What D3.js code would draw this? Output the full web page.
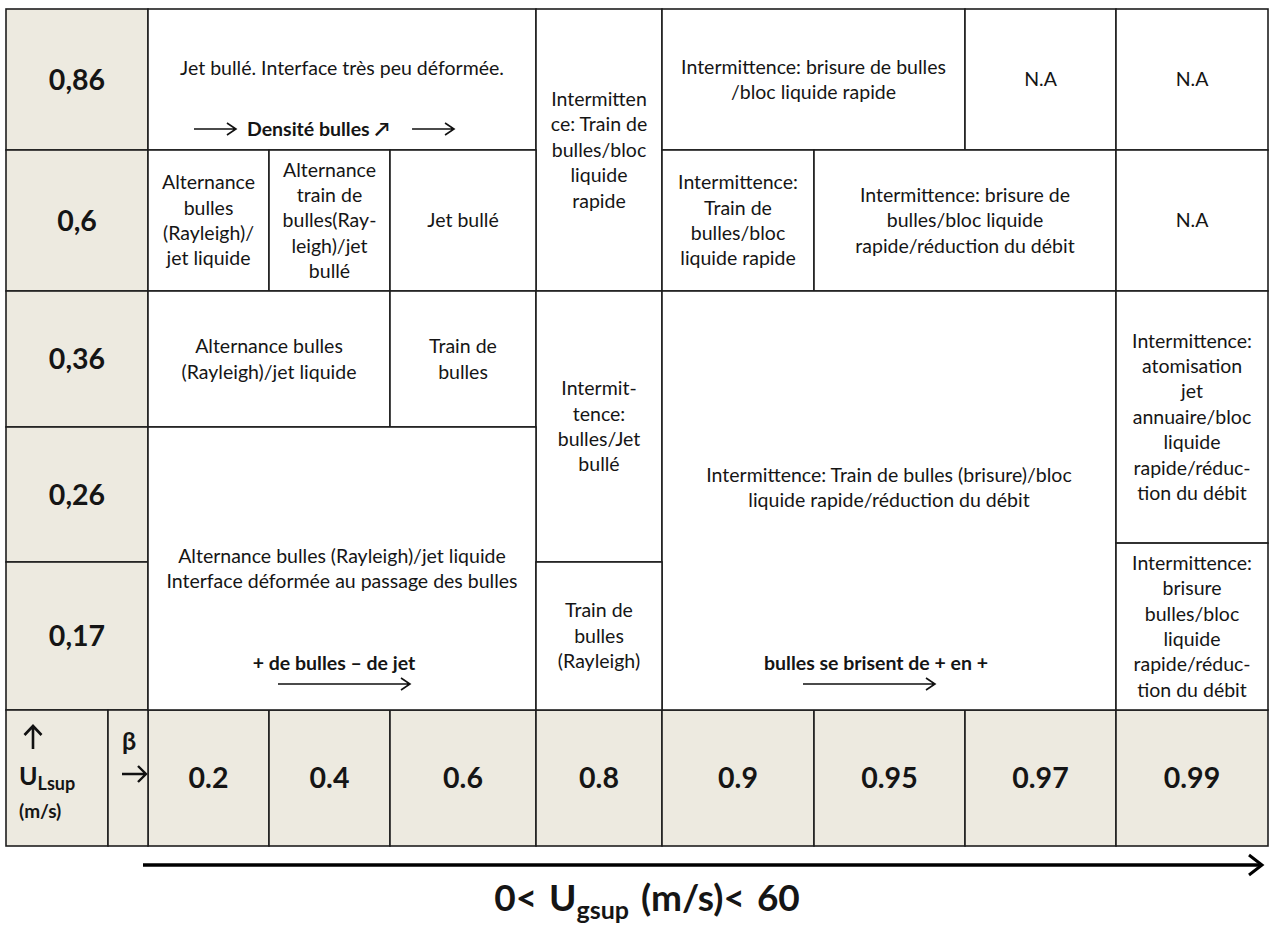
<!DOCTYPE html>
<html><head><meta charset="utf-8">
<script src="https://cdn.jsdelivr.net/npm/d3@7"></script>
<style>
body{margin:0;background:#fff}
svg text{font-family:Lato,"Open Sans",sans-serif;fill:#151515}
</style>
</head><body>
<svg id="chart" width="1269" height="927"></svg>
<script>
// ---- data ----
const rowLabels = ["0,86","0,6","0,36","0,26","0,17"];          // U_Lsup (m/s)
const betaLabels = ["0.2","0.4","0.6","0.8","0.9","0.95","0.97","0.99"];
// regime cells: column span c, row span r (indices into betaLabels / rowLabels)
const regimeCells = [
 {c:[0,3], r:[0,1], lines:["Jet bullé. Interface très peu déformée."]},
 {c:[3,4], r:[0,2], lines:["Intermitten","ce: Train de","bulles/bloc","liquide","rapide"]},
 {c:[4,6], r:[0,1], lines:["Intermittence: brisure de bulles","/bloc liquide rapide"]},
 {c:[6,7], r:[0,1], lines:["N.A"]},
 {c:[7,8], r:[0,1], lines:["N.A"]},
 {c:[0,1], r:[1,2], lines:["Alternance","bulles","(Rayleigh)/","jet liquide"]},
 {c:[1,2], r:[1,2], lines:["Alternance","train de","bulles(Ray-","leigh)/jet","bullé"]},
 {c:[2,3], r:[1,2], lines:["Jet bullé"]},
 {c:[4,5], r:[1,2], lines:["Intermittence:","Train de","bulles/bloc","liquide rapide"]},
 {c:[5,7], r:[1,2], lines:["Intermittence: brisure de","bulles/bloc liquide","rapide/réduction du débit"]},
 {c:[7,8], r:[1,2], lines:["N.A"]},
 {c:[0,2], r:[2,3], lines:["Alternance bulles","(Rayleigh)/jet liquide"]},
 {c:[2,3], r:[2,3], lines:["Train de","bulles"]},
 {c:[3,4], r:[2,4], lines:["Intermit-","tence:","bulles/Jet","bullé"]},
 {c:[4,7], r:[2,5], lines:["Intermittence: Train de bulles (brisure)/bloc","liquide rapide/réduction du débit"]},
 {c:[7,8], r:[2,3.86], lines:["Intermittence:","atomisation","jet","annuaire/bloc","liquide","rapide/réduc-","tion du débit"]},
 {c:[7,8], r:[3.86,5], lines:["Intermittence:","brisure","bulles/bloc","liquide","rapide/réduc-","tion du débit"]},
 {c:[0,3], r:[3,5], lines:["Alternance bulles (Rayleigh)/jet liquide","Interface déformée au passage des bulles"]},
 {c:[3,4], r:[4,5], lines:["Train de","bulles","(Rayleigh)"]}
];
// trend notes (bold) attached to a regime cell
const trendNotes = [
 {cell:0,  text:"Densité bulles ↗", kind:"inline"},
 {cell:17, text:"+ de bulles – de jet", kind:"below"},
 {cell:14, text:"bulles se brisent de + en +", kind:"below"}
];
const headerU = {main:"U", sub:"Lsup", unit:"(m/s)"};
const headerBeta = "β";
const axisTitle = {pre:"0< U", sub:"gsup", post:" (m/s)< 60"};

// ---- layout ----
const svg = d3.select("#chart");
const beige = "#edeae0", stroke = "#1e1e1e";
const x = d3.scaleLinear().domain(d3.range(betaLabels.length+1))
  .range([148,269,390,536,662,814,965,1116,1268]);
const y = d3.scaleLinear().domain(d3.range(rowLabels.length+1))
  .range([9,150,291,427,562,710]);
const left = 6, splitX = 108, bottomY = 846;
const fs = 19.5, lh = 25.4, labFs = 28.5, noteFs = 19.5;
const textShift = {0:-11.5, 14:-13};   // vertical nudges of main text

const g = svg.append("g");

// row label cells
g.selectAll("rect.rl").data(rowLabels).join("rect")
  .attr("x",left).attr("y",(d,i)=>y(i)).attr("width",x(0)-left).attr("height",(d,i)=>y(i+1)-y(i))
  .attr("fill",beige).attr("stroke",stroke).attr("stroke-width",1.6);
g.selectAll("text.rl").data(rowLabels).join("text")
  .attr("x",(left+x(0))/2).attr("y",(d,i)=>(y(i)+y(i+1))/2+10)
  .attr("text-anchor","middle").attr("font-weight","bold").attr("font-size",labFs).text(d=>d);

// bottom beta row
g.selectAll("rect.bl").data(betaLabels).join("rect")
  .attr("x",(d,i)=>x(i)).attr("y",y(rowLabels.length)).attr("width",(d,i)=>x(i+1)-x(i))
  .attr("height",bottomY-y(rowLabels.length))
  .attr("fill",beige).attr("stroke",stroke).attr("stroke-width",1.6);
g.selectAll("text.bl").data(betaLabels).join("text")
  .attr("x",(d,i)=>(x(i)+x(i+1))/2).attr("y",(y(rowLabels.length)+bottomY)/2+10)
  .attr("text-anchor","middle").attr("font-weight","bold").attr("font-size",labFs).text(d=>d);

// header cells
const y5 = y(rowLabels.length);
g.append("rect").attr("x",left).attr("y",y5).attr("width",splitX-left).attr("height",bottomY-y5)
  .attr("fill",beige).attr("stroke",stroke).attr("stroke-width",1.6);
g.append("rect").attr("x",splitX).attr("y",y5).attr("width",x(0)-splitX).attr("height",bottomY-y5)
  .attr("fill",beige).attr("stroke",stroke).attr("stroke-width",1.6);
// up arrow
g.append("path").attr("d",`M33,${y5+39}V${y5+16}M24.5,${y5+25}L33,${y5+16}L41.5,${y5+25}`)
  .attr("fill","none").attr("stroke","#111").attr("stroke-width",2.6);
const ut = g.append("text").attr("x",19).attr("y",y5+75).attr("font-weight","bold").attr("font-size",25);
ut.append("tspan").text(headerU.main);
ut.append("tspan").attr("font-size",18).attr("dy",5).text(headerU.sub);
g.append("text").attr("x",19).attr("y",y5+108).attr("font-weight","bold").attr("font-size",19).text(headerU.unit);
g.append("text").attr("x",129).attr("y",y5+40).attr("text-anchor","middle").attr("font-weight","bold")
  .attr("font-size",25).text(headerBeta);
g.append("path").attr("d",`M122,${y5+64}H146M138,${y5+56}L146,${y5+64}L138,${y5+72}`)
  .attr("fill","none").attr("stroke","#111").attr("stroke-width",2.4);

// regime cells
const cellG = g.selectAll("g.cell").data(regimeCells).join("g");
cellG.append("rect")
  .attr("x",d=>x(d.c[0])).attr("y",d=>y(d.r[0]))
  .attr("width",d=>x(d.c[1])-x(d.c[0])).attr("height",d=>y(d.r[1])-y(d.r[0]))
  .attr("fill","#fff").attr("stroke",stroke).attr("stroke-width",1.6);
cellG.each(function(d,i){
  const cx = (x(d.c[0])+x(d.c[1]))/2;
  const cy = (y(d.r[0])+y(d.r[1]))/2 + (textShift[i]||0);
  const n = d.lines.length;
  d3.select(this).selectAll("text").data(d.lines).join("text")
    .attr("x",cx).attr("y",(l,j)=>cy+(j-(n-1)/2)*lh+fs*0.35)
    .attr("text-anchor","middle").attr("font-size",fs).text(l=>l);
});

// trend notes
const arrowPath = (x0,x1,yy)=>`M${x0},${yy}H${x1}M${x1-9},${yy-6}L${x1},${yy}L${x1-9},${yy+6}`;
trendNotes.forEach(n=>{
  const d = regimeCells[n.cell];
  const x0 = x(d.c[0]), x1 = x(d.c[1]), yb = y(d.r[1]);
  const cx = (x0+x1)/2;
  if(n.kind==="inline"){
    const ty = yb-21;
    const t = g.append("text").attr("x",cx-24).attr("y",ty+7).attr("text-anchor","middle")
      .attr("font-weight","bold").attr("font-size",noteFs).text(n.text);
    const w = t.node().getComputedTextLength();
    const a = cx-24-w/2-11, b = cx-24+w/2+23;
    g.append("path").attr("d",arrowPath(a-42,a,ty)).attr("fill","none").attr("stroke","#111").attr("stroke-width",1.6);
    g.append("path").attr("d",arrowPath(b,b+42,ty)).attr("fill","none").attr("stroke","#111").attr("stroke-width",1.6);
  } else {
    const off = n.cell===14 ? -13 : -8;
    g.append("text").attr("x",cx+off).attr("y",yb-47+7).attr("text-anchor","middle")
      .attr("font-weight","bold").attr("font-size",noteFs).text(n.text);
    const ac = n.cell===14 ? cx-20 : cx+2;
    g.append("path").attr("d",arrowPath(ac-66,ac+66,yb-26)).attr("fill","none").attr("stroke","#111").attr("stroke-width",1.6);
  }
});

// bottom axis arrow
const ay = 865;
g.append("path").attr("d",`M143,${ay}H1262`).attr("stroke","#000").attr("stroke-width",3.5).attr("fill","none");
g.append("path").attr("d",`M1249,${ay-10}L1262,${ay}L1249,${ay+10}`).attr("stroke","#000").attr("stroke-width",3).attr("fill","none");
const at = g.append("text").attr("x",647).attr("y",911).attr("text-anchor","middle")
  .attr("font-weight","bold").attr("font-size",37).attr("word-spacing",3);
at.append("tspan").text(axisTitle.pre);
at.append("tspan").attr("font-size",25).attr("dy",8).text(axisTitle.sub);
at.append("tspan").attr("dy",-8).text(axisTitle.post);
</script>
</body></html>
